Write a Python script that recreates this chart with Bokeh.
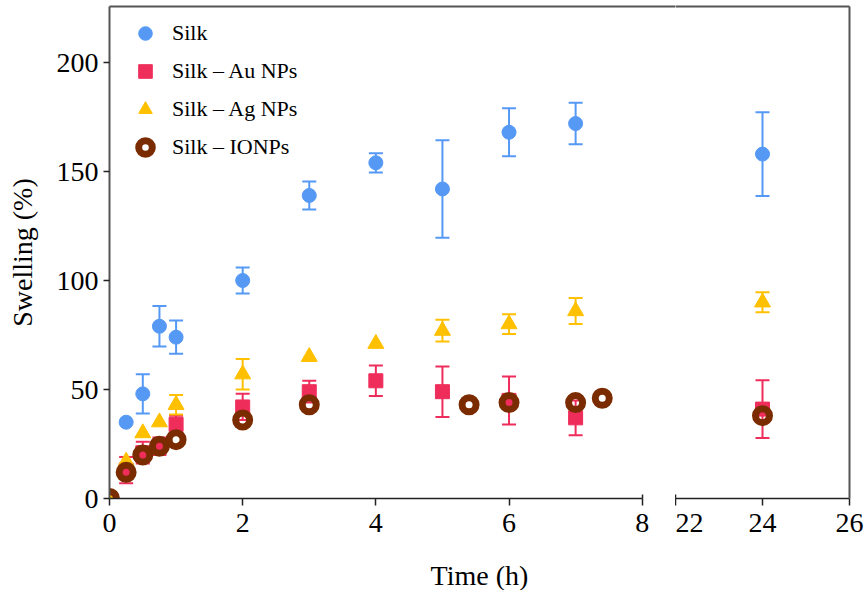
from bokeh.plotting import figure
from bokeh.models import (Range1d, LinearAxis, FixedTicker, ColumnDataSource,
                          Legend, LegendItem, Title)
from bokeh.layouts import row, column
from bokeh.embed import file_html
from bokeh.resources import INLINE

FONT = "Liberation Serif"

# ---------------- data ----------------
silk_t   = [0, 0.25, 0.5, 0.75, 1, 2, 3, 4, 5, 6, 7, 24]
silk_y   = [0, 35, 48, 79, 74, 100, 139, 154, 142, 168, 172, 158]
silk_err = [0, 0, 9, 9.3, 7.6, 6, 6.4, 4.4, 22.4, 11, 9.5, 19.2]

au_t   = [0, 0.25, 0.5, 0.75, 1, 2, 3, 4, 5, 6, 7, 24]
au_y   = [0, 13, 21, 24, 34, 42, 49, 54, 49, 45, 37, 41]
au_err = [0, 6, 5, 4, 4, 6, 5, 7, 11.6, 11, 8, 13.3]

ag_t   = [0, 0.25, 0.5, 0.75, 1, 2, 3, 4, 5, 6, 7, 24]
ag_y   = [0, 17, 30, 35, 43, 57, 65, 71, 77, 80, 86, 90]
ag_err = [0, 0, 0, 0, 4.5, 7, 0, 0, 5, 4.5, 6, 4.6]

ionp_t   = [0, 0.25, 0.5, 0.75, 1, 2, 3, 5.4, 6, 7, 7.4, 24]
ionp_y   = [0, 12, 20, 24, 27, 36, 43, 43, 44, 44, 46, 38]
ionp_err = [0, 0, 0, 0, 0, 0, 0, 0, 0, 0, 0, 0]

series_names = ["Silk", "Silk \u2013 Au NPs", "Silk \u2013 Ag NPs", "Silk \u2013 IONPs"]
left_ticks = [0, 2, 4, 6, 8]
right_ticks = [22, 24, 26]
y_ticks = [0, 50, 100, 150, 200]
x_title = "Time (h)"
y_title = "Swelling (%)"

C_SILK = "#5599f5"
C_AU = "#ef2d5b"
C_AG = "#ffc000"
C_IONP = "#7a2c00"

AXC = "#222222"
BORDC = "#555555"

TOP = 6
FRAME_H = 492
BOTTOM = 47
H = TOP + FRAME_H + BOTTOM
W1, W2 = 675, 191

yr = Range1d(0, 225.7)


def split(t, y, e, lo, hi):
    idx = [i for i, v in enumerate(t) if lo <= v <= hi]
    pts = ColumnDataSource(dict(x=[t[i] for i in idx], y=[y[i] for i in idx]))
    eidx = [i for i in idx if e[i] > 0]
    err = ColumnDataSource(dict(x=[t[i] for i in eidx],
                                lo=[y[i] - e[i] for i in eidx],
                                hi=[y[i] + e[i] for i in eidx]))
    return pts, err


def border_axis(p, side):
    ax = LinearAxis(ticker=FixedTicker(ticks=[]), major_tick_out=0, major_tick_in=0,
                    minor_tick_out=0, minor_tick_in=0,
                    major_label_text_font_size="0px", major_label_standoff=0,
                    axis_line_color=BORDC, axis_line_width=2)
    p.add_layout(ax, side)


def make_fig(width, x_range, ticks, left_border, right_border, y_loc):
    p = figure(width=width, height=H, x_range=x_range, y_range=yr,
               output_backend="svg", toolbar_location=None,
               y_axis_location=y_loc,
               min_border_left=left_border, min_border_right=right_border,
               min_border_top=TOP, min_border_bottom=BOTTOM)
    p.outline_line_color = None
    p.xgrid.visible = False
    p.ygrid.visible = False
    p.background_fill_color = "white"
    p.border_fill_color = "white"
    xa = p.xaxis[0]
    cap = ticks[-1] if ticks[0] == 0 else ticks[0]
    xa.ticker = FixedTicker(ticks=ticks, minor_ticks=[cap])
    xa.bounds = (ticks[0], ticks[-1])
    xa.major_tick_out = 7
    xa.major_tick_in = 0
    xa.minor_tick_in = 4
    xa.minor_tick_out = 0
    xa.axis_line_color = AXC
    xa.axis_line_width = 1.5
    xa.major_tick_line_color = AXC
    xa.major_tick_line_width = 1.5
    xa.minor_tick_line_color = AXC
    xa.minor_tick_line_width = 1.5
    xa.major_label_text_font = FONT
    xa.major_label_text_font_size = "28px"
    xa.major_label_text_color = "black"
    xa.major_label_standoff = 8
    return p


def draw(p, lo, hi):
    rends = []
    specs = [
        (silk_t, silk_y, silk_err, C_SILK, dict(marker="circle", size=14, fill_color=C_SILK, line_color=C_SILK)),
        (au_t, au_y, au_err, C_AU, dict(marker="square", size=14, fill_color=C_AU, line_color=C_AU)),
        (ag_t, ag_y, ag_err, C_AG, dict(marker="triangle", size=16, fill_color=C_AG, line_color=C_AG)),
        (ionp_t, ionp_y, ionp_err, C_IONP, dict(marker="circle", size=14, fill_color=None, line_color=C_IONP, line_width=7)),
    ]
    for t, y, e, c, mk in specs:
        pts, err = split(t, y, e, lo, hi)
        p.segment(x0="x", y0="lo", x1="x", y1="hi", source=err, line_color=c, line_width=2)
        p.scatter(x="x", y="lo", source=err, marker="dash", size=14, line_color=c, line_width=2)
        p.scatter(x="x", y="hi", source=err, marker="dash", size=14, line_color=c, line_width=2)
        r = p.scatter(x="x", y="y", source=pts, **mk)
        rends.append(r)
    return rends


# ---------------- left panel (0-8 h) ----------------
p1 = make_fig(W1, Range1d(0, 8.5), left_ticks, 109, 0, "left")
ya = p1.yaxis[0]
ya.ticker = FixedTicker(ticks=y_ticks, minor_ticks=[])
ya.major_tick_out = 6
ya.major_tick_in = 0
ya.axis_line_color = BORDC
ya.axis_line_width = 2
ya.major_tick_line_color = AXC
ya.major_tick_line_width = 1.5
ya.major_label_text_font = FONT
ya.major_label_text_font_size = "28px"
ya.major_label_text_color = "black"
ya.major_label_standoff = 5
ya.axis_label = y_title
ya.axis_label_text_font = FONT
ya.axis_label_text_font_size = "28px"
ya.axis_label_text_font_style = "normal"
ya.axis_label_text_color = "black"
ya.axis_label_standoff = 16
border_axis(p1, "above")

r1 = draw(p1, 0, 8)

legend = Legend(items=[LegendItem(label=n, renderers=[r]) for n, r in zip(series_names, r1)],
                location="top_left", border_line_color=None, background_fill_alpha=0,
                label_text_font=FONT, label_text_font_size="22px", label_text_color="black",
                glyph_height=34, glyph_width=52, spacing=4, padding=9, margin=10,
                label_standoff=1)
p1.add_layout(legend)

# ---------------- right panel (22-26 h) ----------------
p2 = make_fig(W2, Range1d(22, 26), right_ticks, 0, 17, "right")
ry = p2.yaxis[0]
ry.ticker = FixedTicker(ticks=[])
ry.major_tick_out = 0
ry.major_tick_in = 0
ry.minor_tick_out = 0
ry.minor_tick_in = 0
ry.major_label_text_font_size = "0px"
ry.major_label_standoff = 0
ry.axis_line_color = BORDC
ry.axis_line_width = 2
border_axis(p2, "above")

draw(p2, 22, 26)

# ---------------- shared x-axis title strip, centred under both panels ----------------
p3 = figure(width=W1 + W2, height=590 - H, x_range=Range1d(0, 1), y_range=Range1d(0, 1),
            output_backend="svg", toolbar_location=None,
            x_axis_location=None, y_axis_location=None,
            min_border_left=109, min_border_right=17, min_border_top=0, min_border_bottom=0)
p3.outline_line_color = None
p3.xgrid.visible = False
p3.ygrid.visible = False
p3.add_layout(Title(text=x_title, align="center", text_font=FONT,
                    text_font_size="28px", text_font_style="normal",
                    text_color="black", standoff=0), "below")

layout = column(row(p1, p2), p3)
open("out.html", "w").write(file_html(layout, INLINE))
